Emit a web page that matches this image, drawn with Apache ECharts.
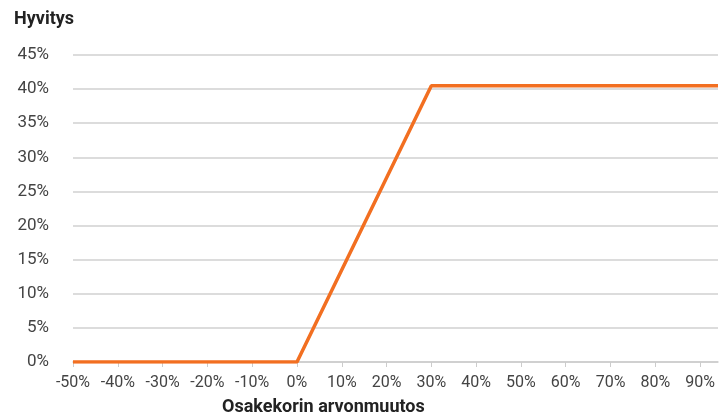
<!DOCTYPE html>
<html>
<head>
<meta charset="utf-8">
<script src="https://cdn.jsdelivr.net/npm/echarts@6/dist/echarts.min.js"></script>
<style>html,body{margin:0;padding:0;background:#fff}#c{width:719px;height:419px}</style>
</head>
<body>
<div id="c"></div>
<script>
const xValues = [-50, 0, 30, 94];
const yValues = [0, 0, 40.5, 40.5];
const xTicks = [-50, -40, -30, -20, -10, 0, 10, 20, 30, 40, 50, 60, 70, 80, 90];
const yTicks = [0, 5, 10, 15, 20, 25, 30, 35, 40, 45];
const yTitle = 'Hyvitys';
const xTitle = 'Osakekorin arvonmuutos';

const font = 'Roboto';
const chart = echarts.init(document.getElementById('c'), null, {renderer: 'canvas'});
chart.setOption({
  animation: false,
  backgroundColor: '#fff',
  grid: {left: 73, right: 1, top: 55, bottom: 57},
  graphic: [
    {type: 'text', left: 14, top: 10, style: {text: yTitle, font: 'bold 18px ' + font, fill: '#222'}},
    {type: 'text', left: 222, top: 398, style: {text: xTitle, font: 'bold 18px ' + font, fill: '#222'}}
  ],
  xAxis: {
    type: 'value', min: -50, max: 94,
    axisLine: {show: true, lineStyle: {color: '#cccccc', width: 1.5}},
    axisTick: {show: true, length: 5, lineStyle: {color: '#cccccc'}, customValues: xTicks},
    axisLabel: {color: '#444', fontFamily: font, fontSize: 16, margin: 13, customValues: xTicks,
      formatter: v => v + '%'},
    splitLine: {show: false}
  },
  yAxis: {
    type: 'value', min: 0, max: 45, interval: 5,
    axisLine: {show: false},
    axisTick: {show: false},
    axisLabel: {color: '#444', fontFamily: font, fontSize: 17, margin: 24, formatter: v => v + '%'},
    splitLine: {show: true, lineStyle: {color: '#d0d0d0', width: 1.5}}
  },
  series: [{
    type: 'line',
    data: xValues.map((x, i) => [x, yValues[i]]),
    showSymbol: false,
    lineStyle: {color: '#f26f21', width: 3.5},
    itemStyle: {color: '#f26f21'}
  }]
});
</script>
</body>
</html>
